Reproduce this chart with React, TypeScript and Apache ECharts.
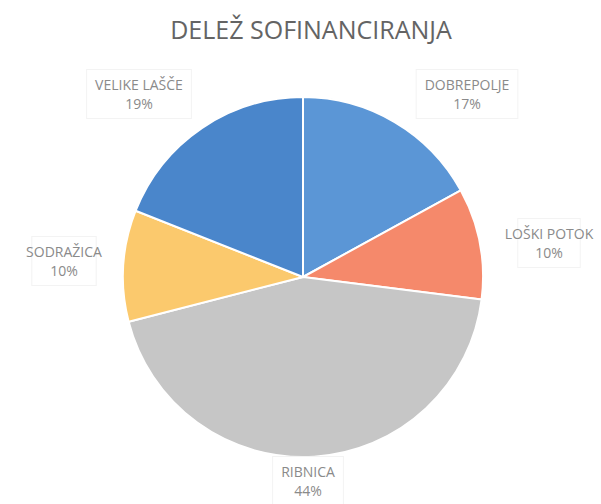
import React, { useEffect, useRef } from "react";
import * as echarts from "echarts";

const categories = ["DOBREPOLJE", "LOŠKI POTOK", "RIBNICA", "SODRAŽICA", "VELIKE LAŠČE"];
const values = [17, 10, 44, 10, 19];
const colors = ["#5b96d6", "#f5896b", "#c6c6c6", "#fbc96d", "#4a86cb"];

// label anchor positions (layout only)
const labelLayoutPos = [
  [467, 94],
  [549, 243],
  [308, 481],
  [64, 261],
  [139, 94],
];

export default function App() {
  const ref = useRef<HTMLDivElement>(null);
  useEffect(() => {
    document.body.style.margin = "0";
    const chart = echarts.init(ref.current!, null, { renderer: "svg" });
    chart.setOption({
      animation: false,
      backgroundColor: "#ffffff",
      title: {
        text: "DELEŽ SOFINANCIRANJA",
        left: 306,
        textAlign: "center",
        top: 11,
        textStyle: {
          fontFamily: "Open Sans",
          fontSize: 25,
          fontWeight: "normal",
          color: "#646464",
        },
      },
      series: [
        {
          type: "pie",
          center: [303, 277],
          radius: 180,
          startAngle: 90,
          clockwise: true,
          percentPrecision: 0,
          itemStyle: { borderColor: "#ffffff", borderWidth: 2 },
          label: {
            show: true,
            position: "outside",
            formatter: "{b}\n{d}%",
            fontFamily: "Open Sans",
            fontSize: 14,
            lineHeight: 19,
            color: "#8a8a8a",
            backgroundColor: "#ffffff",
            borderColor: "#f3f3f3",
            borderWidth: 1,
            padding: [5, 8, 5, 8],
            align: "center",
            overflow: "none",
          },
          labelLine: { show: false },
          labelLayout: (params: any) => ({
            x: labelLayoutPos[params.dataIndex][0],
            y: labelLayoutPos[params.dataIndex][1],
            align: "center",
            verticalAlign: "middle",
          }),
          data: categories.map((name, i) => ({
            name,
            value: values[i],
            itemStyle: { color: colors[i] },
          })),
        },
      ],
    });
    return () => chart.dispose();
  }, []);
  return <div ref={ref} style={{ width: 601, height: 504 }} />;
}
